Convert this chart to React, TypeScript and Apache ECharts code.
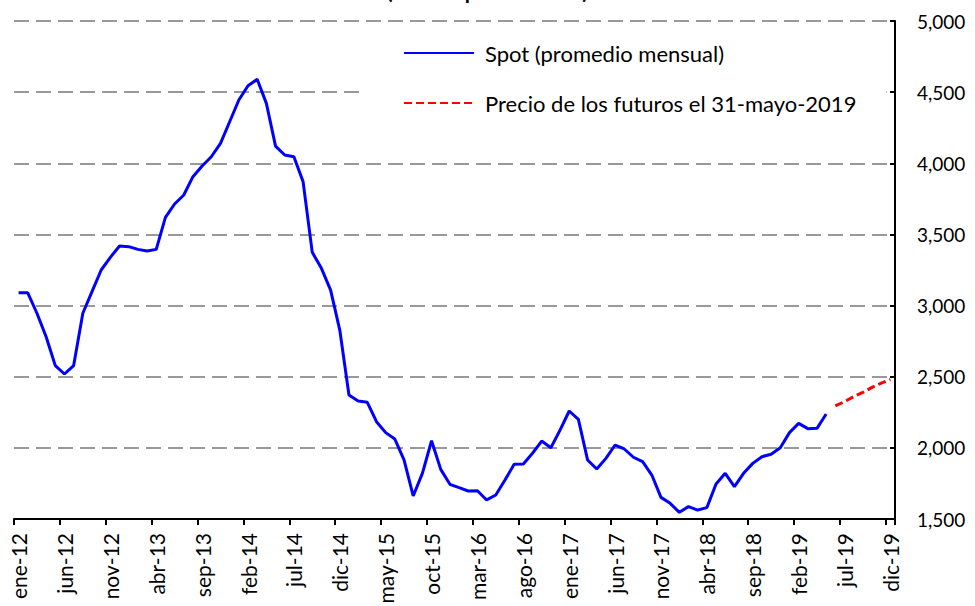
import React, { useEffect, useRef } from "react";
import * as echarts from "echarts";

const MONTHS = ["ene", "feb", "mar", "abr", "may", "jun", "jul", "ago", "sep", "oct", "nov", "dic"];
const YEARS = ["12", "13", "14", "15", "16", "17", "18", "19"];
const categories: string[] = [];
for (const y of YEARS) for (const m of MONTHS) categories.push(`${m}-${y}`);

const spotValues = [
  3090, 3090, 2946, 2781, 2578, 2519, 2578, 2946, 3098, 3250, 3339, 3419,
  3414, 3395, 3383, 3395, 3620, 3714, 3777, 3906, 3981, 4046, 4140, 4292,
  4445, 4545, 4590, 4421, 4121, 4058, 4046, 3871, 3374, 3262, 3109, 2828,
  2371, 2329, 2320, 2184, 2107, 2062, 1915, 1662, 1821, 2050, 1849, 1744,
  1720, 1697, 1699, 1634, 1669, 1774, 1884, 1887, 1962, 2048, 2001, 2125,
  2259, 2200, 1915, 1851, 1926, 2020, 1992, 1934, 1903, 1809, 1652, 1610,
  1547, 1587, 1563, 1580, 1746, 1821, 1727, 1821, 1891, 1938, 1955, 2001,
  2107, 2172, 2135, 2137, 2238,
];

// Futures from jun-19 to dic-19
const futuresValues = [2295, 2325, 2360, 2390, 2425, 2455, 2480];

const yTicks = { min: 1500, max: 5000, interval: 500 };

const SPOT_NAME = "Spot (promedio mensual)";
const FUT_NAME = "Precio de los futuros el 31-mayo-2019";
const TITLE = "(dólares por tonelada)";

const FONT = "Lato";

export default function App() {
  const ref = useRef<HTMLDivElement>(null);
  useEffect(() => {
    if (!ref.current) return;
    const chart = echarts.init(ref.current, undefined, { renderer: "svg" });
    const futData: (number | null)[] = [
      ...spotValues.map(() => null),
      ...futuresValues,
    ];
    chart.setOption({
      animation: false,
      backgroundColor: "#ffffff",
      textStyle: { fontFamily: FONT },
      grid: { left: 14, right: 80, top: 21, bottom: 87, outerBoundsMode: "none" },
      legend: {
        orient: "vertical",
        left: 360,
        top: 30,
        itemWidth: 70,
        itemHeight: 22,
        itemGap: 28,
        padding: [12, 30, 12, 43],
        backgroundColor: "#ffffff",
        itemStyle: { opacity: 0 },
        textStyle: { fontSize: 22, color: "#000", fontFamily: FONT, lineHeight: 22, padding: [0, 0, 0, 6] },
        data: [SPOT_NAME, FUT_NAME],
      },
      graphic: [
        {
          type: "text",
          left: "center",
          x: 0,
          y: 1,
          style: {
            text: TITLE,
            fontSize: 21,
            fontWeight: "bold",
            fontFamily: FONT,
            fill: "#000",
            verticalAlign: "bottom",
          },
        },
      ],
      xAxis: {
        type: "category",
        data: categories,
        boundaryGap: true,
        axisLine: { lineStyle: { color: "#000", width: 2 } },
        axisTick: { show: true, interval: 4, length: 6, lineStyle: { color: "#000", width: 2 } },
        axisLabel: { interval: 4, rotate: 90, margin: 14, fontSize: 21, color: "#000", fontFamily: FONT },
        splitLine: { show: false },
      },
      yAxis: {
        type: "value",
        position: "right",
        min: yTicks.min,
        max: yTicks.max,
        interval: yTicks.interval,
        axisLine: { show: true, lineStyle: { color: "#000", width: 2 } },
        axisTick: { show: true, inside: true, length: 5, lineStyle: { color: "#000", width: 2 } },
        axisLabel: {
          margin: 22,
          fontSize: 19,
          color: "#000",
          fontFamily: FONT,
          formatter: (v: number) => v.toLocaleString("en-US"),
        },
        splitLine: { show: true, lineStyle: { color: "#999999", width: 2, type: [15, 7] } },
      },
      series: [
        {
          name: SPOT_NAME,
          type: "line",
          data: spotValues,
          symbol: "none",
          showSymbol: false,
          lineStyle: { color: "#0000ff", width: 3 },
          itemStyle: { color: "#0000ff" },
          z: 3,
        },
        {
          name: FUT_NAME,
          type: "line",
          data: futData,
          symbol: "none",
          showSymbol: false,
          lineStyle: { color: "#ff0000", width: 3, type: [8, 4] },
          itemStyle: { color: "#ff0000" },
          z: 3,
        },
      ],
    });
    return () => chart.dispose();
  }, []);
  return <div ref={ref} style={{ width: 975, height: 606, position: "fixed", left: 0, top: 0 }} />;
}
